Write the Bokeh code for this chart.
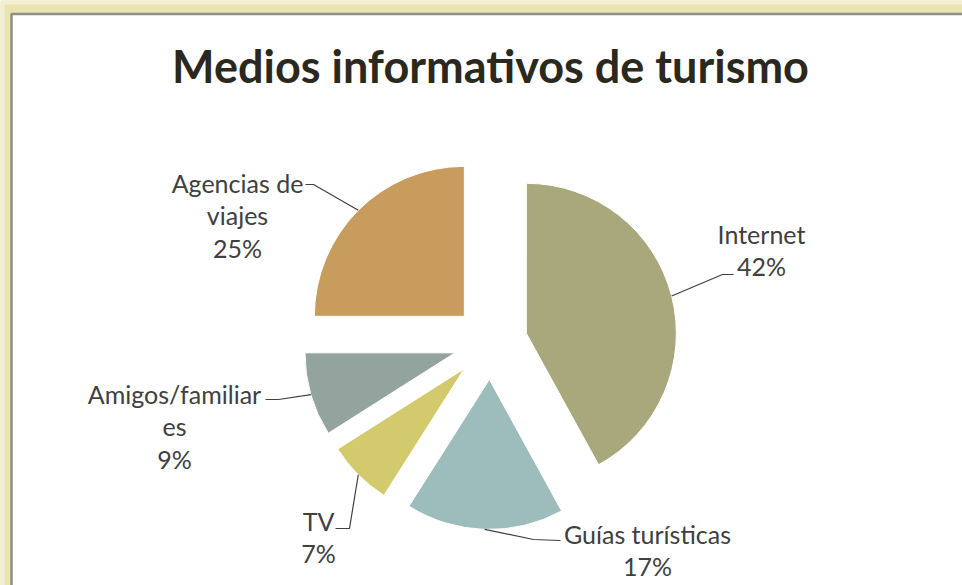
import numpy as np
from bokeh.plotting import figure
from bokeh.models import Range1d
from bokeh.core.properties import value
from bokeh.embed import file_html
from bokeh.resources import INLINE

# ---------------- data ----------------
title_text = "Medios informativos de turismo"
categories = ["Internet", "Guías turísticas", "TV", "Amigos/familiares", "Agencias de viajes"]
label_lines = [["Internet"], ["Guías turísticas"], ["TV"], ["Amigos/familiar", "es"], ["Agencias de", "viajes"]]
values = [42, 17, 7, 9, 25]
colors = ["#A9A77C", "#9DBDBD", "#D2CA6D", "#93A39D", "#C89C5C"]

# ---------------- layout (screen pixels, y down) ----------------
W, H = 962, 585
CX, CY = 490, 342
R = 150
EXPLODE = 37
LINE_H = 32.5
label_pos = [(761, 233), (647, 533), (318, 520), (174, 393), (237, 182)]
leader_elbow = [[(722, 274), (733, 274)], [(533, 539), (560, 540)],
                [(349, 528), (335, 528)], [(278, 399), (265, 399)],
                [(313, 184), (305, 184)]]

FONT = "Lato"
LABEL_COLOR = "#404040"
CREAM = "#E9E5B0"


def sy(y):
    return H - y


p = figure(width=W, height=H, output_backend="svg", toolbar_location=None,
           x_range=Range1d(0, W), y_range=Range1d(0, H),
           x_axis_type=None, y_axis_type=None, min_border=0)
p.grid.visible = False
p.outline_line_color = None
p.background_fill_color = CREAM
p.border_fill_color = CREAM

# outer glow bands and white chart frame
p.quad(left=[0], right=[W], bottom=[0], top=[H], fill_color="#F1EED2", line_color=None)
p.quad(left=[4], right=[W + 20], bottom=[-20], top=[H - 4], fill_color="#E9E5B0", line_color=None)
p.quad(left=[11], right=[W + 20], bottom=[-20], top=[H - 13.5], fill_color="white",
       line_color="#8E8E8A", line_width=2.5)

# ---------------- pie ----------------
vals = np.array(values, dtype=float)
frac = vals / vals.sum()
cum = np.concatenate([[0], np.cumsum(frac)])
starts = np.pi / 2 - 2 * np.pi * cum[:-1]
ends = np.pi / 2 - 2 * np.pi * cum[1:]
mids = (starts + ends) / 2
cx = CX + EXPLODE * np.cos(mids)
cy = sy(CY) + EXPLODE * np.sin(mids)

p.wedge(x=cx, y=cy, radius=R, start_angle=starts, end_angle=ends, direction="clock",
        fill_color=colors, line_color="white", line_width=1)

# ---------------- leader lines ----------------
for i in range(len(values)):
    ax = cx[i] + R * np.cos(mids[i])
    ay = cy[i] + R * np.sin(mids[i])
    xs = [ax] + [pt[0] for pt in leader_elbow[i]]
    ys = [ay] + [sy(pt[1]) for pt in leader_elbow[i]]
    p.line(xs, ys, line_color="#404040", line_width=1.2)

# ---------------- labels ----------------
pct = [f"{int(round(f * 100))}%" for f in frac]
tx, ty, tt = [], [], []
for i in range(len(values)):
    lines = label_lines[i] + [pct[i]]
    x0, y0 = label_pos[i]
    for k, s in enumerate(lines):
        tx.append(x0)
        ty.append(sy(y0 + k * LINE_H))
        tt.append(s)
p.text(x=tx, y=ty, text=tt, text_align="center", text_baseline="middle",
       text_font=value(FONT), text_font_size="25px", text_color=LABEL_COLOR)

# ---------------- title ----------------
p.text(x=[490], y=[sy(65)], text=[title_text], text_align="center", text_baseline="middle",
       text_font=value(FONT), text_font_size="45px", text_font_style="bold",
       text_color="#2B281E")

html = file_html(p, INLINE, title=title_text)
html = html.replace("</head>", "<style>html,body{margin:0;padding:0;overflow:hidden;}</style></head>")
open("out.html", "w").write(html)
